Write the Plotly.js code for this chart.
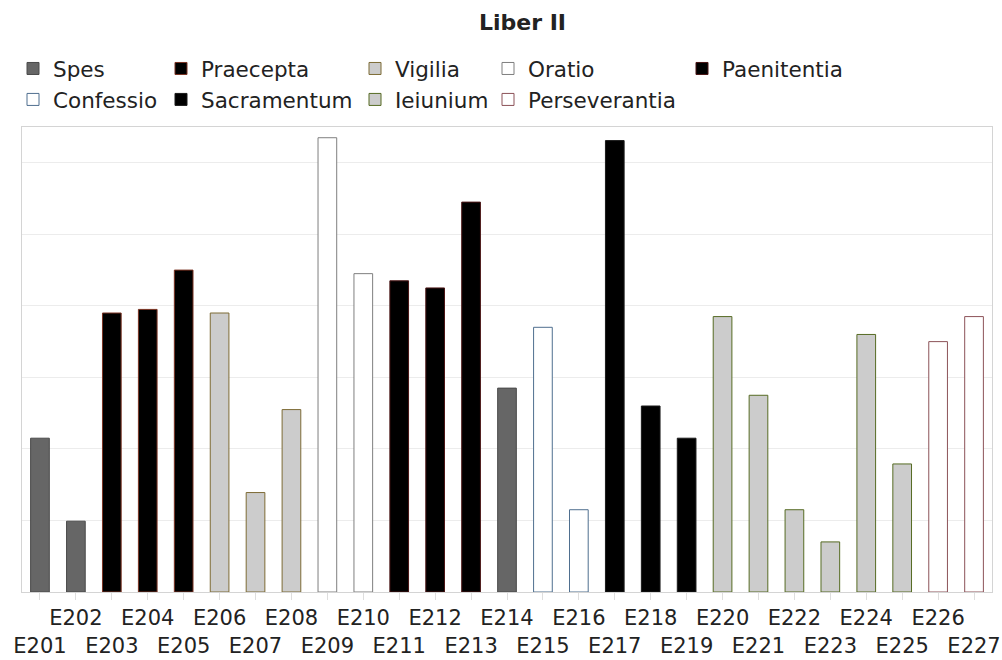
<!DOCTYPE html>
<html>
<head>
<meta charset="utf-8">
<script src="https://cdn.plot.ly/plotly-3.0.1.min.js"></script>
<style>html,body{margin:0;padding:0;background:#fff;}#chart{width:1002px;height:660px;}</style>
</head>
<body>
<div id="chart"></div>
<script>
// ---- data ----
var categories = ["E201","E202","E203","E204","E205","E206","E207","E208","E209","E210","E211","E212","E213","E214","E215","E216","E217","E218","E219","E220","E221","E222","E223","E224","E225","E226","E227"];
var values = [21.5, 9.9, 39.0, 39.5, 45.0, 39.0, 13.9, 25.5, 63.5, 44.5, 43.5, 42.5, 54.5, 28.5, 37.0, 11.5, 63.1, 26.0, 21.5, 38.5, 27.5, 11.5, 7.0, 36.0, 17.9, 35.0, 38.5];
var seriesOf = ["Spes","Spes","Praecepta","Praecepta","Praecepta","Vigilia","Vigilia","Vigilia","Oratio","Oratio","Paenitentia","Paenitentia","Paenitentia","Spes","Confessio","Confessio","Sacramentum","Sacramentum","Sacramentum","Ieiunium","Ieiunium","Ieiunium","Ieiunium","Ieiunium","Ieiunium","Perseverantia","Perseverantia"];
var seriesNames = ["Spes","Praecepta","Vigilia","Oratio","Paenitentia","Confessio","Sacramentum","Ieiunium","Perseverantia"];
var fillColors = ["#666666","#000000","#cccccc","#ffffff","#000000","#ffffff","#000000","#cccccc","#ffffff"];
var lineColors = ["#4a4a4a","#7a3322","#7d6b35","#7f7f7f","#4a1414","#4f6f8f","#1a1a1a","#566b23","#8c5258"];
var title = "Liber II";

// ---- traces ----
var legendIds = ["legend","legend2","legend3","legend4","legend5"];
var traces = seriesNames.map(function(name, si){
  var xs = [], ys = [];
  categories.forEach(function(c, i){ if (seriesOf[i] === name) { xs.push(c); ys.push(values[i]); } });
  return {
    type: "bar", name: name, x: xs, y: ys, width: 0.52,
    marker: {color: fillColors[si], line: {color: lineColors[si], width: 1}},
    legend: legendIds[si % 5],
    hoverinfo: "x+y+name"
  };
});

var tickText = categories.map(function(c, i){ return i % 2 === 0 ? "\u00a0<br>" + c : c; });

var font = {family: "DejaVu Sans", size: 21.5, color: "#222222"};
var tickFont = {family: "DejaVu Sans", size: 21, color: "#222222"};
function leg(xpx){
  return {xref: "container", yref: "container", x: xpx/1002, y: 1 - 48/660, xanchor: "left", yanchor: "top",
          orientation: "v", bgcolor: "rgba(0,0,0,0)", borderwidth: 0, font: font, traceorder: "normal"};
}

var layout = {
  width: 1002, height: 660,
  paper_bgcolor: "#ffffff", plot_bgcolor: "#ffffff",
  margin: {l: 22, r: 10, t: 127, b: 68, pad: 0, autoexpand: false},
  font: font,
  title: {text: "<b>" + title + "</b>", xref: "container", yref: "container", x: 522.5/1002, xanchor: "center",
          y: 1 - 22/660, yanchor: "middle", font: {family: "DejaVu Sans", size: 22, color: "#222222"}},
  barmode: "overlay",
  showlegend: true,
  legend: leg(13), legend2: leg(161), legend3: leg(355), legend4: leg(488), legend5: leg(682),
  xaxis: {type: "category", categoryorder: "array", categoryarray: categories,
          tickmode: "array", tickvals: categories, ticktext: tickText,
          range: [-0.5, categories.length - 0.5],
          showline: true, linecolor: "#d4d4d4", linewidth: 1, mirror: true,
          ticks: "outside", ticklen: 7, tickcolor: "#dedede", tickwidth: 1, ticklabelstandoff: 0,
          showgrid: false, zeroline: false, tickfont: tickFont, tickangle: 0, automargin: false},
  yaxis: {range: [0, 65], dtick: 10, tick0: 0, showticklabels: false, ticks: "",
          showgrid: true, gridcolor: "#ececec", gridwidth: 1,
          showline: true, linecolor: "#d4d4d4", linewidth: 1, mirror: true, zeroline: false, automargin: false}
};

Plotly.newPlot("chart", traces, layout, {displayModeBar: false, staticPlot: true});
</script>
</body>
</html>
